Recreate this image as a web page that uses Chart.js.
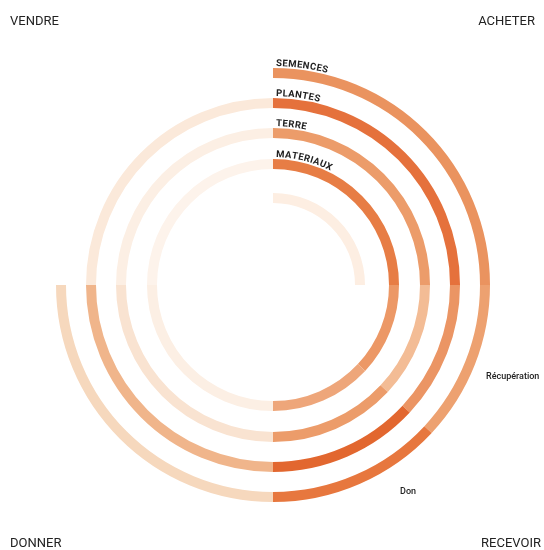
<!DOCTYPE html>
<html>
<head>
<meta charset="utf-8">
<script src="https://cdn.jsdelivr.net/npm/chart.js@4.4.0/dist/chart.umd.min.js"></script>
<style>
  html, body { margin: 0; padding: 0; background: #fff; }
  #wrap { width: 544px; height: 550px; }
</style>
</head>
<body>
<div id="wrap"><canvas id="cercles"></canvas></div>
<script>
// segments, clockwise from the top: acheter | récupération | don | donner | vendre
const segments = ["Acheter", "Récupération", "Don", "Donner", "Vendre"];
const anneaux = ["SEMENCES", "PLANTES", "TERRE", "MATERIAUX", ""];

// parts of each ring, in degrees (360 per ring)
const semences  = [90, 43, 47, 90, 90];
const plantes   = [90, 43, 47, 90, 90];
const terre     = [90, 43, 47, 90, 90];
const materiaux = [90, 43, 47, 90, 90];
const interieur = [90, 43, 47, 90, 90];

const vide = "rgba(0,0,0,0)";
const couleurs = [
    ["#ea935f", "#eda170", "#e7773e", "#f6d8bd", vide],
    ["#e5713c", "#eb9564", "#e2672f", "#f0b58b", "#fbe9da"],
    ["#ec9c6a", "#f3bc95", "#ec9c6a", "#f9e3d1", "#fcefe4"],
    ["#e77d45", "#ec9866", "#eea67a", "#fcefe4", "#fdf3eb"],
    ["#fdeee2", vide, vide, vide, vide]
];
const valeurs = [semences, plantes, terre, materiaux, interieur];

// ring thickness and the gaps between rings (px, through dataset weight)
const epaisseur = 10;
const ecarts = [20, 20, 21, 24];
const rayon = 217;
const total = valeurs.length * epaisseur + ecarts.reduce((a, b) => a + b, 0);

let datasets = [];
valeurs.forEach((v, i) => {
    datasets.push({
        label: anneaux[i],
        data: v,
        backgroundColor: couleurs[i],
        borderWidth: 0,
        weight: epaisseur
    });
    if (i < ecarts.length) {
        datasets.push({ label: "", data: [1], backgroundColor: vide, borderWidth: 0, weight: ecarts[i] });
    }
});

// ring names written along the top of each ring
function texteCourbe(ctx, texte, cx, cy, r, debut, espace) {
    let a = debut / r;
    for (const ch of texte) {
        const w = ctx.measureText(ch).width;
        a += (w / 2) / r;
        ctx.save();
        ctx.translate(cx, cy);
        ctx.rotate(a);
        ctx.fillText(ch, 0, -r);
        ctx.restore();
        a += (w / 2 + espace) / r;
    }
}

const etiquettes = {
    id: "etiquettes",
    afterDraw(chart) {
        const ctx = chart.ctx;
        ctx.save();
        ctx.fillStyle = "#222";

        ctx.font = "bold 9.5px Roboto";
        ctx.textAlign = "center";
        ctx.textBaseline = "alphabetic";
        anneaux.forEach((nom, i) => {
            if (!nom) return;
            const arc = chart.getDatasetMeta(i * 2).data[0];
            texteCourbe(ctx, nom, arc.x, arc.y, arc.outerRadius + 2, 3, 0.4);
        });

        const arc0 = chart.getDatasetMeta(0).data[0];
        ctx.font = "500 9px Roboto";
        ctx.textAlign = "left";
        ctx.textBaseline = "middle";
        ctx.fillText("Récupération", arc0.x + 213, arc0.y + 92);
        ctx.fillText("Don", arc0.x + 127, arc0.y + 207);

        ctx.font = "13px Roboto";
        ctx.textBaseline = "middle";
        ctx.textAlign = "left";
        ctx.fillText("VENDRE", 10, 22);
        ctx.fillText("DONNER", 10, 544);
        ctx.textAlign = "right";
        ctx.fillText("ACHETER", 535, 22);
        ctx.fillText("RECEVOIR", 541, 544);
        ctx.restore();
    }
};

new Chart(document.getElementById("cercles"), {
    type: "doughnut",
    data: { labels: segments, datasets: datasets },
    options: {
        responsive: true,
        maintainAspectRatio: false,
        animation: false,
        events: [],
        radius: rayon,
        cutout: ((rayon - total) / rayon * 100) + "%",
        layout: { padding: { top: 20, left: 2 } },
        plugins: {
            legend: { display: false },
            tooltip: { enabled: false }
        }
    },
    plugins: [etiquettes]
});
</script>
</body>
</html>
